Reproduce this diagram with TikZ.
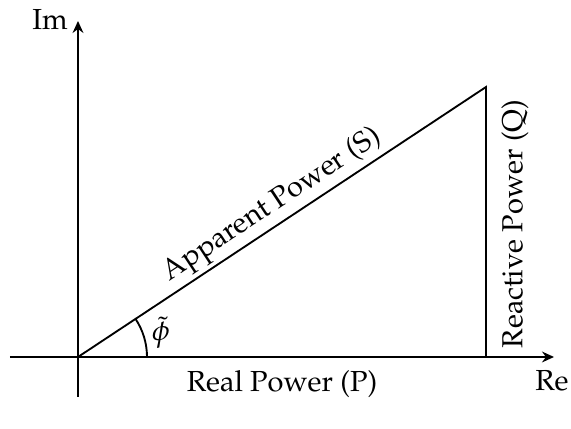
\documentclass[tikz,border=0pt]{standalone}
\usepackage[T1]{fontenc}
\usepackage{mathpazo}
\usetikzlibrary{arrows.meta}
\begin{document}
\begin{tikzpicture}[x=0.35pt,y=-0.35pt,
  ln/.style={line width=0.65pt},
  ax/.style={ln,-{Stealth[length=4.2pt,width=3.8pt,inset=1.4pt]}},
  lbl/.style={inner sep=0pt,font=\fontsize{10.15}{12}\selectfont}]
\useasboundingbox (0,0) rectangle (571,429);
\coordinate (O) at (78,357);
\coordinate (xl) at (10,357);
\coordinate (xr) at (554,357);
\coordinate (yb) at (78,397);
\coordinate (yt) at (78,21);
\coordinate (A) at (486,87);
\coordinate (B) at (486,357);
\draw[ax] (xl) -- (xr);
\draw[ax] (yb) -- (yt);
\draw[ln] (O) -- (A) -- (B);
\draw[ln] (O) ++(69,0) arc[start angle=0,end angle=33.5,radius=69*0.35pt];
\node[lbl] (im) at (50,20) {Im};
\node[lbl] (re) at (552,381) {Re};
\node[lbl] (p) at (282,384) {Real Power (P)};
\node[lbl,rotate=90] (q) at (515,224) {Reactive Power (Q)};
\node[lbl,rotate=33.5,anchor=base] (s) at (276,211) {Apparent Power (S)};
\node[lbl] (phi) at (161,333) {$\tilde{\phi}$};
\end{tikzpicture}
\end{document}
